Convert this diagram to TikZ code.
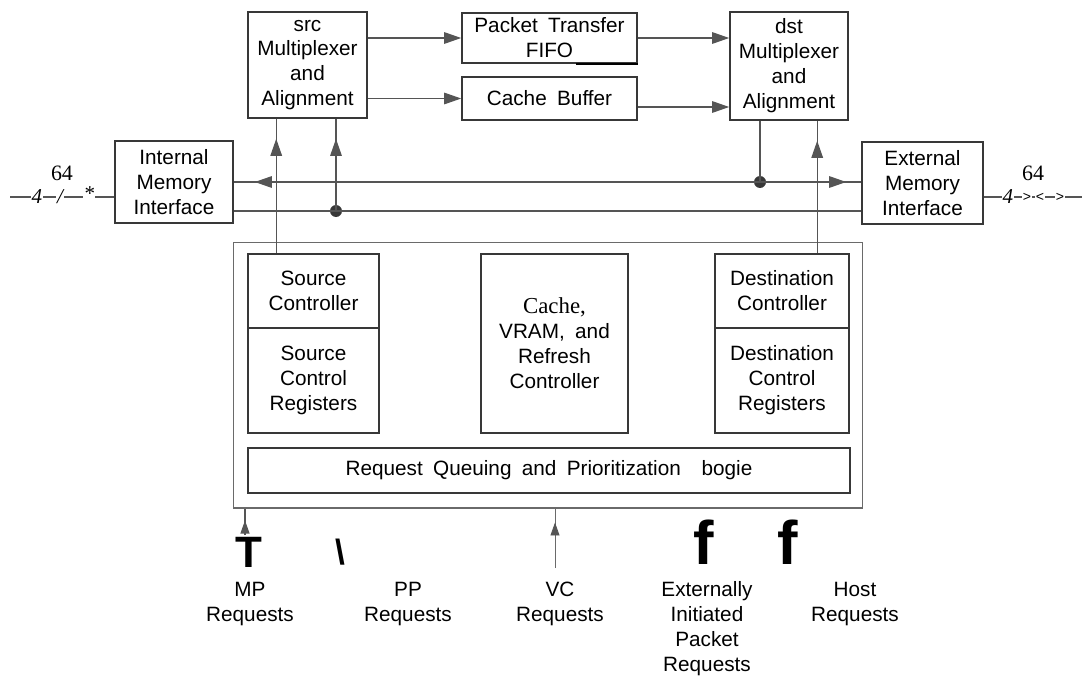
\documentclass[tikz,border=0pt]{standalone}
\usepackage{fontspec}
\setmainfont{Liberation Sans}
\newfontfamily\serifface{Liberation Serif}
\usepackage{xcolor}
\usetikzlibrary{arrows.meta, decorations.markings, positioning}
\definecolor{boxgray}{HTML}{383838}
\definecolor{wiregray}{HTML}{555555}
\definecolor{framegray}{HTML}{6A6A6A}
\newcommand{\boxfont}{\fontsize{11.8}{14.2}\selectfont\spaceskip=0.5em plus 0.1em\relax}
\tikzset{
  blk/.style={draw=boxgray, line width=0.9pt, align=center, inner sep=1pt, font=\boxfont},
  wire/.style={draw=wiregray, line width=0.7pt},
  hd/.style={-{Triangle[length=3.4mm, width=2.3mm]}},
  midtip/.style={postaction={decorate, decoration={markings,
      mark=at position #1 with {\arrow[wiregray]{Triangle[length=3.4mm, width=2.3mm]}}}}},
  smalltip/.style={postaction={decorate, decoration={markings,
      mark=at position #1 with {\arrow[wiregray]{Triangle[length=2.6mm, width=1.8mm]}}}}},
  dot/.style={circle, fill=boxgray, inner sep=0pt, minimum size=0.24cm},
  lbl/.style={align=center, font=\boxfont},
  junk/.style={inner sep=0pt, font=\fontsize{#1}{#1}\selectfont\bfseries},
  busmark/.style={fill=white, inner sep=0.6pt, font=\serifface\fontsize{12}{12}\selectfont\itshape}
}

\begin{document}
\begin{tikzpicture}[x=0.02cm, y=-0.02cm]
\useasboundingbox (0,0) rectangle (1086,676);

% upper row
\node[blk, minimum width=2.38cm, minimum height=2.12cm] (srcmux) at (307.5,65) {src\\Multiplexer\\and\\Alignment};
\node[blk, minimum width=3.5cm, minimum height=1.0cm] (fifo) at (549.5,38) {Packet Transfer\\FIFO};
\node[blk, minimum width=3.5cm, minimum height=0.86cm] (cbuf) at (549.5,98.5) {Cache Buffer};
\node[blk, minimum width=2.36cm, minimum height=2.16cm] (dstmux) at (789,66) {dst\\Multiplexer\\and\\Alignment};
\draw[line width=1.4pt] ([xshift=-1.24cm]fifo.south east) -- (fifo.south east);

% memory interfaces
\node[blk, minimum width=2.36cm, minimum height=1.64cm] (imi) at (174,182) {Internal\\Memory\\Interface};
\node[blk, minimum width=2.42cm, minimum height=1.64cm] (emi) at (922.5,183) {External\\Memory\\Interface};

% controller block
\node[draw=framegray, line width=0.6pt, minimum width=12.6cm, minimum height=5.32cm] (outer) at (548,375) {};
\node[blk, minimum width=2.62cm, minimum height=1.48cm] (srcctl) at (313.5,291) {Source\\Controller};
\node[blk, minimum width=2.62cm, minimum height=2.1cm] (srcreg) at (313.5,380.5) {Source\\Control\\Registers};
\node[blk, minimum width=2.94cm, minimum height=3.58cm] (cvr) at (554.5,343.5) {{\serifface\fontsize{13}{14}\selectfont Cache,}\\VRAM, and\\Refresh\\Controller};
\node[blk, minimum width=2.68cm, minimum height=1.48cm] (dstctl) at (782,291) {Destination\\Controller};
\node[blk, minimum width=2.68cm, minimum height=2.1cm] (dstreg) at (782,380.5) {Destination\\Control\\Registers};
\node[blk, minimum width=12.04cm, minimum height=0.9cm] (rq) at (549,470.5) {Request Queuing and Prioritization\hspace{0.5em} bogie};

% data paths
\draw[wire, hd] (fifo.west -| srcmux.east) -- (fifo.west);
\draw[wire, hd] (cbuf.west -| srcmux.east) -- (cbuf.west);
\draw[wire, hd] (fifo.east) -- (fifo.east -| dstmux.west);
\draw[wire, hd] ([yshift=-0.17cm]cbuf.east) -- ([yshift=-0.17cm]cbuf.east -| dstmux.west);

% buses
\node[dot] (jl) at (336,211) {};
\node[dot] (jr) at (760,182) {};
\draw[wire, postaction={decorate, decoration={markings,
    mark=at position 0.42cm with {\arrowreversed[wiregray]{Triangle[length=3.4mm, width=2.3mm]}},
    mark=at position -0.3cm with {\arrow[wiregray]{Triangle[length=3.4mm, width=2.3mm]}}}}]
  (imi.east) -- (imi.east -| emi.west);
\draw[wire] (jl.center -| imi.east) -- (jl.center -| emi.west);

\coordinate (sa) at ([xshift=0.58cm]srcctl.north west);
\coordinate (da) at ([xshift=2.06cm]dstctl.north west);
\draw[wire, midtip=-0.4cm] (sa) -- (sa |- srcmux.south);
\draw[wire, midtip=-0.4cm] (jl.center) -- (jl |- srcmux.south);
\draw[wire] (jr |- dstmux.south) -- (jr.center);
\draw[wire, midtip=-0.4cm] (da) -- (da |- dstmux.south);

% external lines
\coordinate (lend) at (10,197);
\coordinate (rend) at (1082,197);
\draw[wiregray, line width=1.6pt] (lend) -- (lend -| imi.west);
\draw[wiregray, line width=1.6pt] (rend -| emi.east) -- (rend);
\node[font=\serifface\fontsize{12.5}{12}\selectfont] (wl) at (62,173) {64};
\node[font=\serifface\fontsize{12.5}{12}\selectfont] (wr) at (1033,173) {64};
\node[busmark] (l4) at (37,197) {4};
\node[busmark] (ls) at (60,197) {/};
\node[busmark] (la) at (89,194) {*};
\node[busmark] (r4) at (1008,197) {4};
\node[busmark, font=\fontsize{8}{8}\selectfont] (rg) at (1027,197) {>};
\node[busmark, font=\fontsize{8}{8}\selectfont] (rl) at (1040,197) {<};
\node[busmark, font=\fontsize{8}{8}\selectfont] (rg2) at (1060,197) {>};

% request inputs
\coordinate (mp) at (245,535);
\coordinate (vc) at (555,568);
\draw[wire, smalltip=-0.24cm] (mp) -- (mp |- outer.south);
\draw[wire, draw=framegray, line width=0.5pt, smalltip=-0.28cm] (vc) -- (vc |- outer.south);
\node[junk=25] (jt) at (249,552) {T};
\node[junk=20] (jb) at (340,552) {\textbackslash};
\node[junk=35] (jf1) at (704,542) {f};
\node[junk=35] (jf2) at (788,542) {f};

\node[lbl] (mpr) at (250,604) {MP\\Requests};
\node[lbl] (ppr) at (408,604) {PP\\Requests};
\node[lbl] (vcr) at (560,604) {VC\\Requests};
\node[lbl] (epr) at (707,629) {Externally\\Initiated\\Packet\\Requests};
\node[lbl] (hr) at (855,604) {Host\\Requests};
\end{tikzpicture}
\end{document}
